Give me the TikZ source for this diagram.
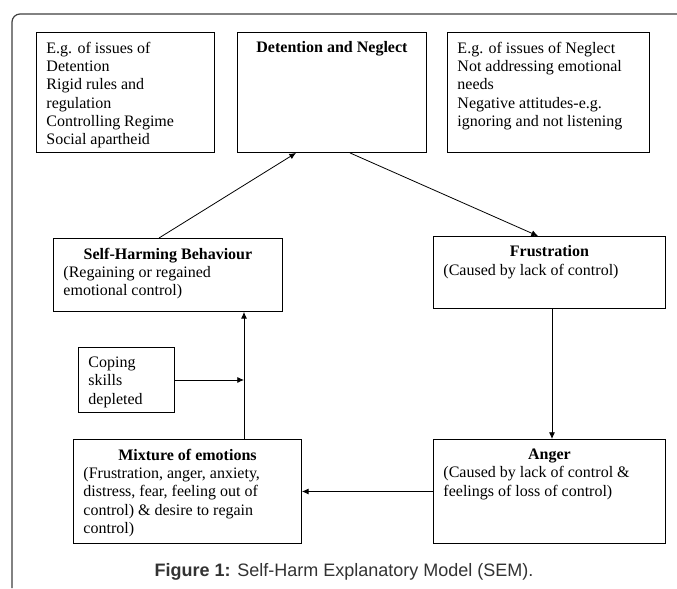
\documentclass[tikz,border=0pt]{standalone}
\usepackage{fontspec}
\setmainfont{Liberation Serif}
\newfontfamily\capfont{Liberation Sans}
\usetikzlibrary{arrows.meta,calc}
\newcommand{\boxtext}[3]{\parbox[c][#2][t]{#1}{\fontsize{12}{13.75}\selectfont\raggedright\leftskip=7.5pt\vspace*{7pt}#3}}

\begin{document}
\begin{tikzpicture}[x=0.75pt,y=-0.75pt,
  box/.style={draw,inner sep=0pt,anchor=north west,line width=0.7pt},
  arr/.style={-{Latex[length=5pt,width=4.5pt]},line width=0.6pt}]
\fill[white] (0,0) rectangle (677,588);
\useasboundingbox (0,0) rectangle (677,588);
\draw[line width=0.9pt,black!75,rounded corners=6pt] (12,588) -- (12,14) -- (677,14);
\node[box] at (36,32) (isdet) {\boxtext{133.5pt}{90pt}{E.g. of issues of\\ Detention\\ Rigid rules and\\ regulation\\ Controlling Regime\\ Social apartheid}};
\node[box] at (237,32) (det) {\boxtext{141.75pt}{90pt}{{\centering\textbf{Detention and Neglect}\par}}};
\node[box] at (447,32) (isneg) {\boxtext{151.5pt}{90pt}{E.g. of issues of Neglect\\ Not addressing emotional\\ needs\\ Negative attitudes-e.g.\\ ignoring and not listening}};
\node[box] at (53,238) (shb) {\boxtext{171.75pt}{54.75pt}{{\centering\textbf{Self-Harming Behaviour}\par}(Regaining or regained\\ emotional control)}};
\node[box] at (433,236) (fru) {\boxtext{174pt}{54pt}{{\centering\textbf{Frustration}\par}(Caused by lack of control)}};
\node[box] at (78,347) (cop) {\boxtext{72pt}{48.75pt}{Coping\\ skills\\ depleted}};
\node[box] at (73,439) (mix) {\boxtext{171pt}{78pt}{{\centering\textbf{Mixture of emotions}\par}(Frustration, anger, anxiety,\\ distress, fear, feeling out of\\ control) \& desire to regain\\ control)}};
\node[box] at (433,439) (ang) {\boxtext{174pt}{78pt}{{\centering\textbf{Anger}\par}(Caused by lack of control \&\\ feelings of loss of control)}};
\node[font=\capfont\fontsize{13.5}{16}\selectfont,text=black!80] at (344,572) (cap) {\textbf{Figure 1:} Self-Harm Explanatory Model (SEM).};
\coordinate (jn) at ($(mix.north west)+(171,0)$);
\draw[arr] ($(shb.north west)+(106,0)$) -- ($(det.south west)+(59,0)$);
\draw[arr] ($(det.south west)+(113,0)$) -- ($(fru.north west)+(105,0)$);
\draw[arr] ($(fru.south west)+(119,0)$) -- ($(ang.north west)+(119,0)$);
\draw[arr] (ang.west) -- (ang.west -| mix.east);
\draw[arr] (jn) -- (jn |- shb.south);
\draw[arr] (cop.east) -- (cop.east -| jn);
\end{tikzpicture}
\end{document}
